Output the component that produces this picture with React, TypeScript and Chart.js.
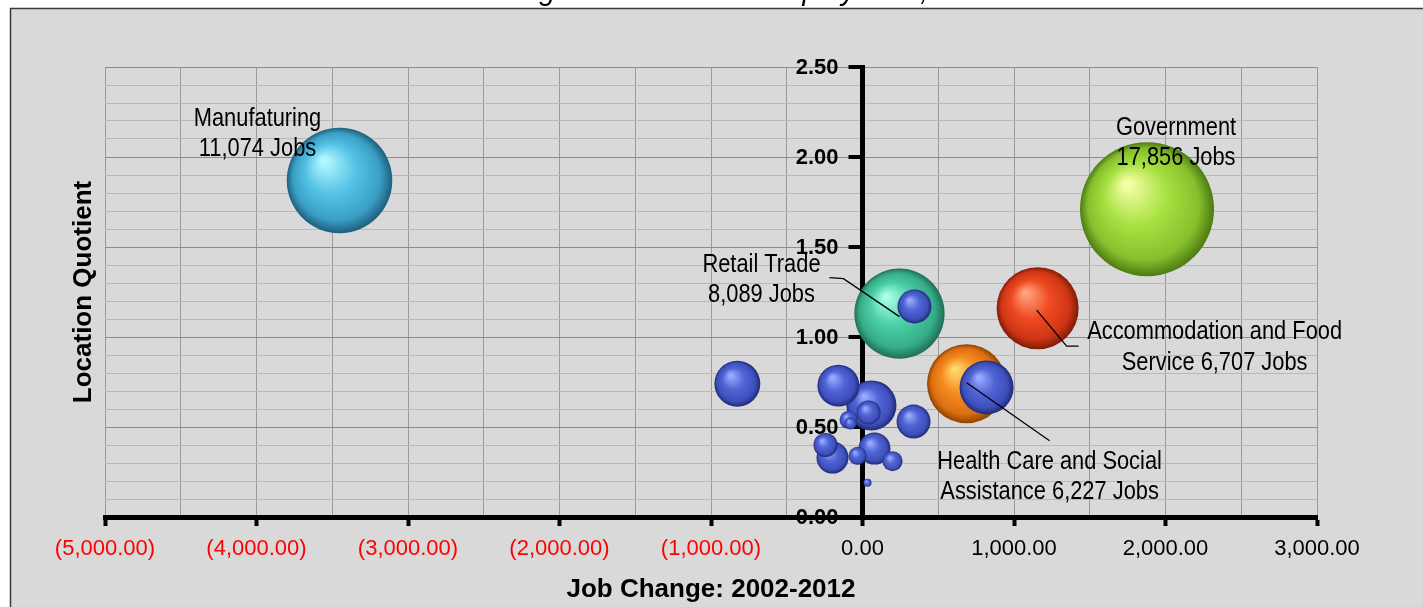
import React, { useEffect, useRef } from 'react';
import { Chart, registerables } from 'chart.js';

Chart.register(...registerables);

// ---------- data ----------
const chartTitle = 'Bubble Size Showing Total Industrial Employment, 2012';
const xAxisTitle = 'Job Change: 2002-2012';
const yAxisTitle = 'Location Quotient';

const labelledIndustries = ['Manufaturing', 'Government', 'Retail Trade', 'Accommodation and Food Service', 'Health Care and Social Assistance'];
const labelledJobChange = [-3452, 1878, 244, 1156, 687];
const labelledLQ = [1.87, 1.71, 1.13, 1.16, 0.74];
const labelledJobs = [11074, 17856, 8089, 6707, 6227];
const labelLines = [
  ['Manufaturing', '11,074 Jobs'],
  ['Government', '17,856 Jobs'],
  ['Retail Trade', '8,089 Jobs'],
  ['Accommodation and Food', 'Service 6,707 Jobs'],
  ['Health Care and Social', 'Assistance 6,227 Jobs'],
];

const otherJobChange = [819, 59, -826, -159, 343, 337, -198, 79, 40, -244, 198, -92, -33, -79, 33];
const otherLQ = [0.72, 0.62, 0.74, 0.73, 1.17, 0.53, 0.33, 0.38, 0.58, 0.40, 0.31, 0.54, 0.34, 0.52, 0.19];
const otherJobs = [2900, 2490, 2100, 1750, 1150, 1150, 1020, 1020, 575, 575, 400, 320, 320, 145, 65];

const xTickValues = [-5000, -4000, -3000, -2000, -1000, 0, 1000, 2000, 3000];
const yTickValues = [0, 0.5, 1, 1.5, 2, 2.5];

// ---------- styles ----------
const MAX_RADIUS = 67;
const palettes = [
  { hi: '#b4f8ff', base: '#55c3e6', mid: '#3a9ec4', dark: '#1d5f7c' },
  { hi: '#f4ffa6', base: '#a6e040', mid: '#86bf2c', dark: '#4d7a12' },
  { hi: '#aaffe8', base: '#4ccfa6', mid: '#36ad88', dark: '#1f6e56' },
  { hi: '#ffa47c', base: '#ee4a22', mid: '#cf3514', dark: '#7e1c06' },
  { hi: '#ffd96a', base: '#f58a1f', mid: '#dc7012', dark: '#8f4300' },
];
const bluePalette = { hi: '#9caeff', base: '#5064d6', mid: '#3e4fba', dark: '#1f2a78' };

// label placement relative to bubble centre (px)
const labelOffsets = [
  { dx: -82, dy: [-62, -32], leader: null },
  { dx: 29, dy: [-81, -51], leader: null },
  { dx: -138, dy: [-49, -19], leader: [[-70, -36], [-56, -35], [0, 3]] },
  { dx: 177, dy: [24, 55], leader: [[-1, 2], [29, 38], [41, 38]] },
  { dx: 83, dy: [78, 108], leader: [[0, -1], [83, 57]] },
];

const maxJobs = Math.max(...labelledJobs);
const radiusFor = (jobs: number) => MAX_RADIUS * Math.sqrt(jobs / maxJobs);

const FONT = '"Liberation Sans", Arial, sans-serif';

const isMultiple = (v: number, step: number) => Math.abs(v / step - Math.round(v / step)) < 1e-6;

function fmtX(v: number) {
  const s = Math.abs(v).toLocaleString('en-US', { minimumFractionDigits: 2, maximumFractionDigits: 2 });
  return v < 0 ? '(' + s + ')' : s;
}

function sphere(ctx: any, pal: any) {
  const chart = ctx.chart;
  const raw = ctx.raw;
  if (!raw || !chart.chartArea || !chart.scales.x) return pal.base;
  const x = chart.scales.x.getPixelForValue(raw.x);
  const y = chart.scales.y.getPixelForValue(raw.y);
  const r = raw.r || 1;
  const g = chart.ctx.createRadialGradient(x - r * 0.3, y - r * 0.38, r * 0.04, x, y, r);
  g.addColorStop(0, pal.hi);
  g.addColorStop(0.45, pal.base);
  g.addColorStop(0.82, pal.mid);
  g.addColorStop(1, pal.dark);
  return g;
}

function drawYLabel(chart: any, v: number) {
  const { ctx } = chart;
  const axisX = chart.scales.x.getPixelForValue(0);
  const py = chart.scales.y.getPixelForValue(v);
  ctx.save();
  ctx.fillStyle = '#000';
  ctx.font = 'bold 22px ' + FONT;
  ctx.textAlign = 'right';
  ctx.textBaseline = 'middle';
  ctx.fillText(v.toFixed(2), axisX - 24, py + 1);
  ctx.restore();
}

const backdrop = {
  id: 'backdrop',
  beforeDraw(chart: any) {
    const { ctx, width, height } = chart;
    ctx.save();
    ctx.fillStyle = '#ffffff';
    ctx.fillRect(0, 0, width, height);
    ctx.fillStyle = '#d9d9d9';
    ctx.fillRect(10, 9, width - 10, height - 9);
    ctx.strokeStyle = '#3a3a3a';
    ctx.lineWidth = 1.5;
    ctx.beginPath();
    ctx.moveTo(10.5, height);
    ctx.lineTo(10.5, 8.5);
    ctx.lineTo(width, 8.5);
    ctx.stroke();
    ctx.fillStyle = '#000';
    ctx.font = 'italic 29px ' + FONT;
    ctx.textAlign = 'center';
    ctx.textBaseline = 'alphabetic';
    ctx.fillText(chartTitle, 641, 0);
    ctx.restore();
    // the 0.00 label sits under the x axis line
    drawYLabel(chart, yTickValues[0]);
  },
};

// y-axis tick marks and labels, drawn left of the crossing axis
const yAxisLabels = {
  id: 'yAxisLabels',
  beforeDatasetsDraw(chart: any) {
    const { ctx } = chart;
    const axisX = chart.scales.x.getPixelForValue(0);
    ctx.save();
    ctx.fillStyle = '#000';
    yTickValues.forEach((v, i) => {
      const py = chart.scales.y.getPixelForValue(v);
      ctx.fillRect(axisX - 14, py - 2, 12, 4);
      if (i > 0) drawYLabel(chart, v);
    });
    ctx.restore();
  },
};

const annotations = {
  id: 'annotations',
  afterDatasetsDraw(chart: any) {
    const { ctx, chartArea } = chart;
    const meta = chart.getDatasetMeta(1);
    ctx.save();
    ctx.fillStyle = '#000';
    ctx.strokeStyle = '#000';
    ctx.lineWidth = 1.3;
    ctx.textAlign = 'center';
    ctx.textBaseline = 'middle';
    ctx.font = '26px ' + FONT;
    meta.data.forEach((el: any, i: number) => {
      const off = labelOffsets[i];
      if (off.leader) {
        ctx.beginPath();
        off.leader.forEach((p: number[], k: number) => {
          if (k === 0) ctx.moveTo(el.x + p[0], el.y + p[1]);
          else ctx.lineTo(el.x + p[0], el.y + p[1]);
        });
        ctx.stroke();
      }
      labelLines[i].forEach((line, k) => {
        ctx.save();
        ctx.translate(el.x + off.dx, el.y + off.dy[k]);
        ctx.scale(0.84, 1);
        ctx.fillText(line, 0, 0);
        ctx.restore();
      });
    });
    // axis titles
    ctx.font = 'bold 26px ' + FONT;
    ctx.textBaseline = 'alphabetic';
    ctx.fillText(xAxisTitle, (chartArea.left + chartArea.right) / 2, 597);
    ctx.translate(84, (chartArea.top + chartArea.bottom) / 2);
    ctx.rotate(-Math.PI / 2);
    ctx.textBaseline = 'middle';
    ctx.fillText(yAxisTitle, 0, 0);
    ctx.restore();
  },
};

export default function App() {
  const canvasRef = useRef<HTMLCanvasElement | null>(null);

  useEffect(() => {
    const canvas = canvasRef.current;
    if (!canvas) return;
    const chart = new Chart(canvas, {
      type: 'bubble',
      data: {
        datasets: [
          {
            label: 'Other industries',
            order: 0,
            data: otherJobChange.map((x, i) => ({ x, y: otherLQ[i], r: radiusFor(otherJobs[i]) })),
            backgroundColor: (c: any) => sphere(c, bluePalette),
            borderWidth: 0,
          },
          {
            label: 'Labelled industries',
            order: 1,
            data: labelledJobChange.map((x, i) => ({ x, y: labelledLQ[i], r: radiusFor(labelledJobs[i]), name: labelledIndustries[i] })),
            backgroundColor: (c: any) => sphere(c, palettes[c.dataIndex] || palettes[0]),
            borderWidth: 0,
          },
        ],
      },
      options: {
        responsive: false,
        animation: false,
        devicePixelRatio: 1,
        events: [],
        layout: { padding: { left: 105, right: 106, top: 67, bottom: 0 } },
        plugins: { legend: { display: false }, tooltip: { enabled: false }, title: { display: false } },
        scales: {
          x: {
            type: 'linear',
            position: 'bottom',
            min: xTickValues[0],
            max: xTickValues[xTickValues.length - 1],
            ticks: {
              stepSize: 500,
              autoSkip: false,
              maxRotation: 0,
              padding: 10,
              font: { family: FONT, size: 22 },
              color: (c: any) => (c.tick && c.tick.value < 0 ? '#ff0000' : '#000000'),
              callback: (v: any) => (xTickValues.includes(Number(v)) ? fmtX(Number(v)) : ''),
            },
            grid: {
              color: '#9a9a9a',
              lineWidth: 1,
              drawTicks: true,
              tickLength: 9,
              tickWidth: 4,
              tickColor: (c: any) => (c.tick && xTickValues.includes(c.tick.value) ? '#000000' : 'rgba(0,0,0,0)'),
            },
            border: { display: true, color: '#000000', width: 5 },
            afterFit: (s: any) => {
              s.height = 90;
            },
          },
          y: {
            type: 'linear',
            position: { x: 0 },
            min: yTickValues[0],
            max: yTickValues[yTickValues.length - 1],
            ticks: {
              stepSize: 0.1,
              autoSkip: false,
              display: false,
            },
            grid: {
              color: (c: any) => (c.tick && isMultiple(c.tick.value, 0.5) ? '#8c8c8c' : '#b9b9b9'),
              lineWidth: 1,
              drawTicks: false,
            },
            border: { display: true, color: '#000000', width: 5 },
          },
        },
      },
      plugins: [backdrop, yAxisLabels, annotations],
    } as any);
    return () => chart.destroy();
  }, []);

  return (
    <div style={{ position: 'absolute', left: 0, top: 0, width: 1423, height: 607 }}>
      <canvas ref={canvasRef} width={1423} height={607} style={{ width: 1423, height: 607, display: 'block' }} />
    </div>
  );
}
